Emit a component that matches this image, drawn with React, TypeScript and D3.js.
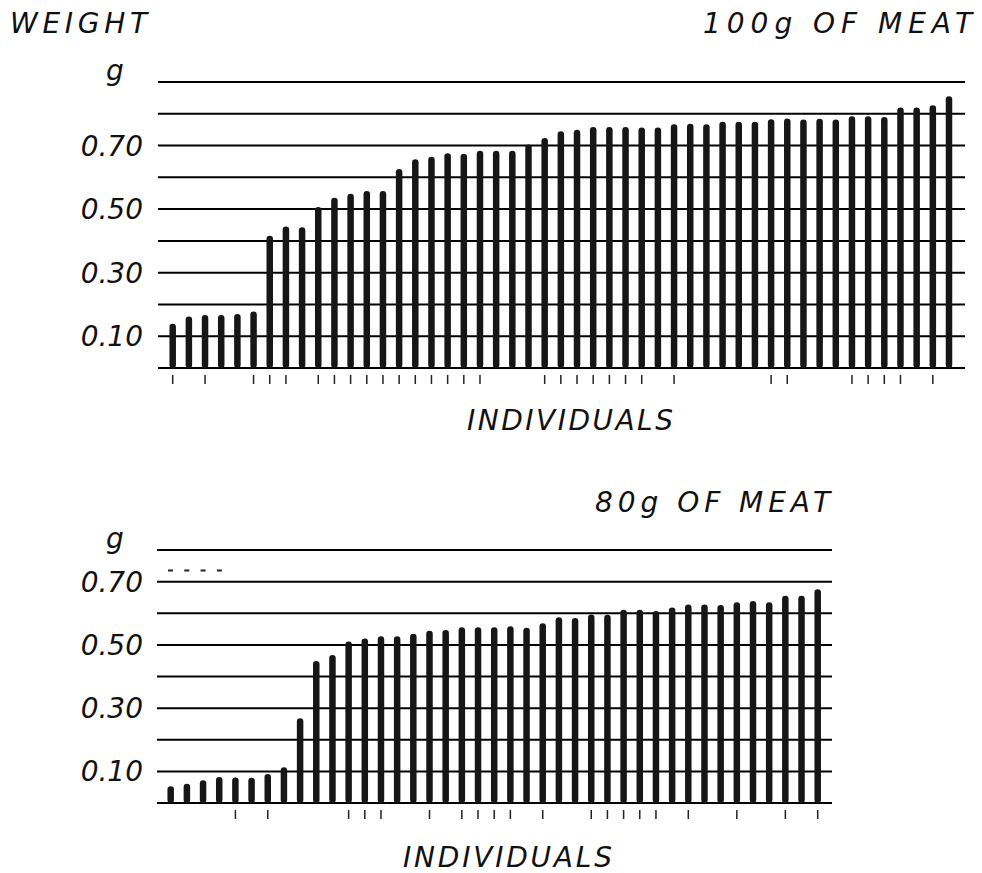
import React from "react";
import { scaleLinear, scalePoint, range } from "d3";

// weight per individual, sorted
const meat100 = [
  0.139, 0.162, 0.167, 0.167, 0.17, 0.178, 0.416, 0.445, 0.443, 0.507,
  0.536, 0.548, 0.557, 0.557, 0.626, 0.657, 0.665, 0.676, 0.674, 0.684,
  0.684, 0.684, 0.703, 0.724, 0.745, 0.75, 0.758, 0.758, 0.758, 0.757,
  0.757, 0.767, 0.769, 0.767, 0.775, 0.775, 0.775, 0.783, 0.785, 0.782,
  0.784, 0.782, 0.792, 0.792, 0.79, 0.82, 0.82, 0.827, 0.855,
];

const meat80 = [
  0.053, 0.061, 0.072, 0.082, 0.081, 0.08, 0.092, 0.113, 0.268, 0.449,
  0.468, 0.511, 0.52, 0.527, 0.527, 0.535, 0.545, 0.547, 0.556, 0.556,
  0.556, 0.559, 0.554, 0.568, 0.587, 0.585, 0.596, 0.595, 0.611, 0.611,
  0.607, 0.618, 0.628, 0.628, 0.626, 0.635, 0.639, 0.635, 0.655, 0.655,
  0.676,
];

// individuals that carry a small mark under the axis (1-based)
const marks100 = [
  1, 3, 6, 7, 8, 10, 11, 12, 13, 14, 15, 16, 17, 18, 19, 20, 24, 25, 26, 27,
  28, 29, 30, 32, 38, 39, 43, 44, 45, 46, 48,
];
const marks80 = [
  5, 7, 12, 13, 14, 17, 19, 20, 21, 22, 24, 27, 28, 29, 30, 31, 33, 36, 39,
  41,
];

const tickValues = [0.1, 0.3, 0.5, 0.7];
const tickLabels = ["0.10", "0.30", "0.50", "0.70"];
const dashMark80 = 0.735;

const font = "'DejaVu Sans', sans-serif";
const barW = 6.5;

const Panel = ({ data, marks, yMax, yRange, xRange, lineX, dash }) => {
  const y = scaleLinear().domain([0, yMax]).range(yRange);
  const x = scalePoint()
    .domain(data.map((d, i) => i + 1))
    .range(xRange);
  const grid = range(0, Math.round(yMax * 10) + 1).map((d) => d / 10);
  const r = barW / 2;

  return (
    <g>
      {grid.map((g, i) => (
        <line
          key={"g" + i}
          x1={lineX[0]}
          x2={lineX[1]}
          y1={y(g)}
          y2={y(g)}
          stroke="#000"
          strokeWidth={2}
        />
      ))}
      {tickValues.map((t, i) => (
        <text
          key={"t" + i}
          x={143}
          y={y(t)}
          dy="0.36em"
          textAnchor="end"
          fontSize={28}
          fontStyle="italic"
          fontFamily={font}
          fill="#111"
        >
          {tickLabels[i]}
        </text>
      ))}
      <text
        x={115}
        y={y(yMax) - 2}
        textAnchor="middle"
        fontSize={28}
        fontStyle="italic"
        fontFamily={font}
        fill="#111"
      >
        g
      </text>
      {data.map((d, i) => (
        <line
          key={"b" + i}
          x1={x(i + 1)}
          x2={x(i + 1)}
          y1={y(0) - r}
          y2={y(d) + r}
          stroke="#161616"
          strokeWidth={barW}
          strokeLinecap="round"
        />
      ))}
      {marks.map((m) => (
        <line
          key={"m" + m}
          x1={x(m)}
          x2={x(m)}
          y1={y(0) + 7}
          y2={y(0) + 16}
          stroke="#222"
          strokeWidth={1.5}
        />
      ))}
      {dash != null && (
        <line
          x1={168}
          x2={222}
          y1={y(dash)}
          y2={y(dash)}
          stroke="#222"
          strokeWidth={2}
          strokeDasharray="5 11.3"
        />
      )}
    </g>
  );
};

const Label = ({ x, y, len, children }) => (
  <text
    x={x}
    y={y}
    textLength={len}
    lengthAdjust="spacing"
    fontSize={28}
    fontStyle="italic"
    fontFamily={font}
    fill="#111"
  >
    {children}
  </text>
);

const App = () => {
  return (
    <svg
      width={982}
      height={873}
      style={{ position: "absolute", left: 0, top: 0, background: "#fff" }}
    >
      <Label x={10} y={33} len={137}>
        WEIGHT
      </Label>
      <Label x={703} y={33} len={269}>
        100g OF MEAT
      </Label>
      <Panel
        data={meat100}
        marks={marks100}
        yMax={0.9}
        yRange={[368, 82]}
        xRange={[172.7, 949]}
        lineX={[158, 965]}
      />
      <Label x={467} y={430} len={206}>
        INDIVIDUALS
      </Label>

      <Label x={595} y={512} len={235}>
        80g OF MEAT
      </Label>
      <Panel
        data={meat80}
        marks={marks80}
        yMax={0.8}
        yRange={[803, 550]}
        xRange={[170.7, 817.7]}
        lineX={[157, 832]}
        dash={dashMark80}
      />
      <Label x={403} y={867} len={209}>
        INDIVIDUALS
      </Label>
    </svg>
  );
};

export default App;
